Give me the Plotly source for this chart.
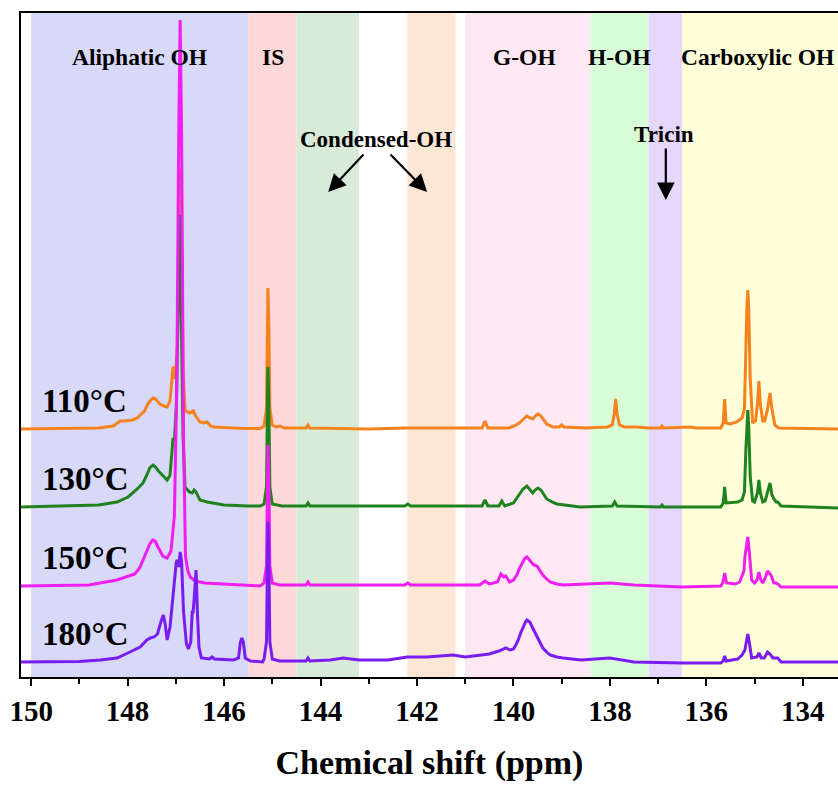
import plotly.graph_objects as go

# ---------------- data ----------------
labels = ["110°C", "130°C", "150°C", "180°C"]
offsets = [248, 170, 91, 15]
colors = ["#f3821f", "#1e821e", "#f01ef0", "#7a1cf0"]

ppm_110 = [150.21, 149.4, 148.6, 148.3, 148.15, 148.05, 147.9, 147.8, 147.74, 147.65, 147.58, 147.52, 147.47, 147.42, 147.37, 147.33, 147.25, 147.18, 147.12, 147.08, 147.06, 147.04, 147.01, 146.97, 146.94, 146.91, 146.88, 146.85, 146.81, 146.72, 146.66, 146.64, 146.6, 146.5, 146.42, 146.35, 146.28, 146.2, 145.6, 145.25, 145.17, 145.12, 145.10, 145.09, 145.07, 145.05, 145.0, 144.92, 144.84, 144.75, 144.3, 144.26, 144.22, 143.0, 142.2, 141.0, 140.65, 140.59, 140.53, 140.1, 139.98, 139.88, 139.8, 139.72, 139.65, 139.6, 139.55, 139.49, 139.43, 139.37, 139.31, 139.18, 139.05, 139.0, 138.95, 138.5, 138.05, 137.95, 137.91, 137.88, 137.85, 137.80, 137.7, 137.44, 137.2, 136.95, 136.92, 136.89, 136.49, 136.34, 136.2, 135.7, 135.65, 135.62, 135.59, 135.5, 135.37, 135.26, 135.21, 135.18, 135.16, 135.14, 135.12, 135.09, 135.04, 134.98, 134.94, 134.91, 134.88, 134.83, 134.79, 134.73, 134.68, 134.64, 134.58, 134.5, 133.2]
int_110 = [0, 0.5, 1, 3, 8, 8, 9, 11, 14, 18, 25, 29, 31, 30, 27, 25, 23, 22, 28, 50, 61, 62, 50, 80, 180, 260, 180, 60, 19, 16, 17, 19, 14, 7, 6, 7, 3, 2, 0.5, 0.5, 3, 20, 100, 141, 100, 20, 4, 2, 3, 1, 1, 4, 1, 0, 1, 1, 1, 8, 1, 1, 3, 6, 10, 13, 11, 10, 13, 15, 13, 9, 5, 2, 2, 4, 2, 1, 2, 4, 15, 30, 15, 4, 2, 2, 1, 1, 3, 1, 2, 2, 1, 1, 6, 30, 6, 5, 7, 11, 20, 90, 120, 139, 120, 50, 6, 8, 25, 48, 25, 8, 8, 20, 36, 20, 4, 1, 0]

ppm_130 = [150.21, 148.6, 148.22, 147.99, 147.8, 147.68, 147.6, 147.54, 147.47, 147.42, 147.36, 147.3, 147.25, 147.18, 147.12, 147.08, 147.06, 147.03, 146.99, 146.95, 146.92, 146.89, 146.85, 146.81, 146.72, 146.66, 146.62, 146.58, 146.5, 146.35, 146.23, 146.0, 145.5, 145.25, 145.17, 145.12, 145.10, 145.09, 145.07, 145.05, 145.0, 144.8, 144.3, 144.26, 144.22, 142.25, 142.19, 142.13, 140.65, 140.59, 140.53, 140.3, 140.24, 140.18, 140.0, 139.93, 139.86, 139.8, 139.72, 139.66, 139.6, 139.55, 139.49, 139.43, 139.37, 139.31, 139.2, 139.1, 138.62, 137.95, 137.9, 137.85, 136.95, 136.92, 136.89, 135.7, 135.65, 135.62, 135.59, 135.35, 135.26, 135.21, 135.18, 135.16, 135.14, 135.12, 135.09, 135.04, 135.0, 134.94, 134.91, 134.88, 134.83, 134.78, 134.72, 134.68, 134.64, 134.6, 134.55, 134.52, 134.45, 133.2]
int_130 = [0, 2, 5, 10, 18, 24, 32, 39, 42, 40, 36, 33, 30, 27, 32, 55, 67, 66, 100, 200, 292, 200, 70, 20, 15, 14, 17, 15, 7, 5, 4, 2, 1, 1, 3, 20, 100, 140, 100, 20, 3, 1, 1, 4, 1, 1, 3, 1, 1, 7, 1, 1, 6, 1, 4, 9, 14, 18, 21, 18, 14, 17, 19, 17, 12, 8, 5, 3, 0, 1, 5, 1, 0, 2, 0, 0, 4, 20, 4, 5, 7, 15, 57, 80, 97, 80, 30, 6, 5, 14, 27, 14, 5, 6, 18, 24, 12, 8, 5, 5, 1, -1]

ppm_150 = [150.21, 148.8, 148.22, 147.99, 147.85, 147.75, 147.68, 147.6, 147.54, 147.48, 147.43, 147.38, 147.32, 147.27, 147.18, 147.1, 147.03, 146.98, 146.94, 146.91, 146.88, 146.84, 146.8, 146.75, 146.7, 146.6, 146.4, 145.6, 145.25, 145.17, 145.12, 145.10, 145.09, 145.07, 145.05, 145.0, 144.85, 144.3, 144.26, 144.22, 142.25, 142.19, 142.13, 140.7, 140.59, 140.5, 140.33, 140.26, 140.2, 140.16, 140.08, 140.0, 139.93, 139.87, 139.82, 139.76, 139.72, 139.64, 139.58, 139.51, 139.45, 139.39, 139.31, 139.24, 139.1, 138.97, 138.0, 137.5, 136.5, 135.7, 135.66, 135.62, 135.58, 135.4, 135.31, 135.22, 135.2, 135.16, 135.14, 135.11, 135.06, 135.0, 134.95, 134.91, 134.87, 134.83, 134.78, 134.73, 134.68, 134.66, 134.6, 134.55, 134.52, 134.45, 133.2]
int_150 = [0, 1, 6, 10, 12, 18, 26, 36, 42, 46, 45, 40, 34, 30, 28, 35, 70, 200, 450, 566, 450, 150, 30, 15, 9, 5, 3, 1, 0, 3, 20, 100, 141, 100, 20, 3, 1, 1, 4, 1, 1, 3, 1, 1, 5, 2, 4, 12, 9, 10, 4, 6, 11, 18, 23, 28, 29, 24, 21, 20, 16, 11, 7, 4, 2, 1, 3, 1, -1, 0, 3, 13, 3, 2, 4, 15, 29, 40, 49, 35, 6, 3, 6, 14, 6, 3, 8, 15, 12, 11, 3, 3, 2, -1, -1]

ppm_180 = [150.21, 149.0, 148.57, 148.22, 147.95, 147.8, 147.74, 147.6, 147.53, 147.45, 147.38, 147.31, 147.26, 147.22, 147.18, 147.12, 147.05, 146.99, 146.97, 146.94, 146.91, 146.88, 146.84, 146.78, 146.74, 146.69, 146.66, 146.64, 146.61, 146.58, 146.55, 146.52, 146.47, 146.3, 146.25, 146.2, 145.8, 145.7, 145.66, 145.63, 145.6, 145.56, 145.45, 145.2, 145.17, 145.12, 145.10, 145.09, 145.07, 145.05, 145.0, 144.85, 144.3, 144.26, 144.22, 143.8, 143.53, 143.2, 142.6, 142.2, 141.8, 141.25, 141.0, 140.65, 140.59, 140.5, 140.3, 140.16, 140.07, 140.0, 139.95, 139.9, 139.85, 139.8, 139.75, 139.72, 139.66, 139.6, 139.55, 139.5, 139.45, 139.39, 139.31, 139.24, 139.1, 138.97, 138.6, 138.0, 137.5, 136.5, 135.7, 135.65, 135.62, 135.59, 135.35, 135.26, 135.2, 135.16, 135.14, 135.11, 135.06, 134.95, 134.91, 134.86, 134.8, 134.73, 134.68, 134.62, 134.52, 134.45, 133.2]
int_180 = [0, 0.5, 2, 4, 10, 13, 15, 22, 24, 25, 28, 40, 47, 38, 22, 35, 70, 100, 102, 95, 110, 100, 50, 18, 13, 20, 50, 50, 70, 92, 47, 15, 4, 3, 5, 3, 2, 4, 20, 24, 20, 4, 1, 0, 3, 20, 100, 140, 100, 20, 3, 1, 1, 4, 1, 2, 4, 2, 2, 5, 5, 7, 5, 7, 8, 8, 11, 14, 12, 13, 17, 22, 29, 35, 40, 42, 40, 34, 29, 24, 19, 14, 10, 7, 5, 4, 2, 4, 0, -1, -1, 1, 6, 1, 3, 7, 12, 22, 28, 20, 4, 5, 9, 4, 4, 10, 8, 4, 4, 0, 0]

spectra_ppm = [ppm_110, ppm_130, ppm_150, ppm_180]
spectra_int = [int_110, int_130, int_150, int_180]

# shaded regions (ppm)
band_start = [150.0, 145.5, 144.5, 142.2, 141.0, 138.4, 137.2, 136.5]
band_end = [145.5, 144.5, 143.2, 141.2, 138.4, 137.2, 136.5, 133.0]
band_colors = ["#d8d8f8", "#fcd8d8", "#d8ebd8", "#fce6d4", "#fde8f4", "#d8fcd8", "#e6d8fc", "#fefed8"]

region_labels = ["Aliphatic OH", "IS", "G-OH", "H-OH", "Carboxylic OH"]
region_label_x = [147.76, 144.98, 139.78, 137.81, 134.93]

x_ticks = [150, 148, 146, 144, 142, 140, 138, 136, 134]

# ---------------- figure ----------------
FONT = "Liberation Serif"
fig = go.Figure()

for p, v, off, c in zip(spectra_ppm, spectra_int, offsets, colors):
    fig.add_trace(go.Scatter(x=p, y=[off + a for a in v], mode="lines",
                             line=dict(color=c, width=3), hoverinfo="skip",
                             showlegend=False))

shapes = []
for s, e, c in zip(band_start, band_end, band_colors):
    shapes.append(dict(type="rect", xref="x", yref="paper", x0=s, x1=e, y0=0, y1=1,
                       fillcolor=c, line=dict(width=0), layer="below"))

ann = []
for t, x in zip(region_labels, region_label_x):
    ann.append(dict(x=x, y=620 / 664, xref="x", yref="paper", text=t, showarrow=False,
                    xanchor="center", yanchor="middle",
                    font=dict(family=FONT, size=23.5, color="black", weight="bold")))
ann.append(dict(x=142.85, y=538 / 664, xref="x", yref="paper", text="Condensed-OH",
                showarrow=False, xanchor="center", yanchor="middle",
                font=dict(family=FONT, size=23, color="black", weight="bold")))
ann.append(dict(x=136.88, y=542 / 664, xref="x", yref="paper", text="Tricin",
                showarrow=False, xanchor="center", yanchor="middle",
                font=dict(family=FONT, size=23, color="black", weight="bold")))

# arrows
arrows = [((143.08, 524), (143.84, 485)), ((142.58, 524), (141.79, 485)), ((136.84, 530), (136.84, 477))]
for (x0, y0), (x1, y1) in arrows:
    ann.append(dict(x=x1, y=y1, ax=x0, ay=y0, xref="x", yref="y", axref="x", ayref="y",
                    showarrow=True, arrowhead=2, arrowsize=1.6, arrowwidth=2.2,
                    arrowcolor="black", text=""))

for t, off in zip(labels, offsets):
    ann.append(dict(x=149.81, y=off + 28, xref="x", yref="y", text=t, showarrow=False,
                    xanchor="left", yanchor="middle",
                    font=dict(family=FONT, size=33, color="black", weight="bold")))

fig.update_layout(
    width=838, height=787,
    margin=dict(l=21, r=0, t=13, b=110),
    plot_bgcolor="white", paper_bgcolor="white",
    shapes=shapes, annotations=ann,
    showlegend=False,
)
fig.update_xaxes(
    range=[150.21, 133.27], showgrid=False, zeroline=False,
    showline=True, linecolor="black", linewidth=2, mirror=True,
    ticks="outside", ticklen=7, tickwidth=2, tickcolor="black",
    tickvals=x_ticks, ticktext=[str(t) for t in x_ticks],
    tickfont=dict(family=FONT, size=29, color="black", weight="bold"),
    minor=dict(dtick=1, tick0=150, ticks="outside", ticklen=5, tickwidth=2, tickcolor="black"),
    title=dict(text="Chemical shift (ppm)", standoff=24,
               font=dict(family=FONT, size=34, color="black", weight="bold")),
)
fig.update_yaxes(range=[0, 664], showgrid=False, zeroline=False, showticklabels=False,
                 showline=True, linecolor="black", linewidth=2, ticks="")

fig.write_html("out.html")
